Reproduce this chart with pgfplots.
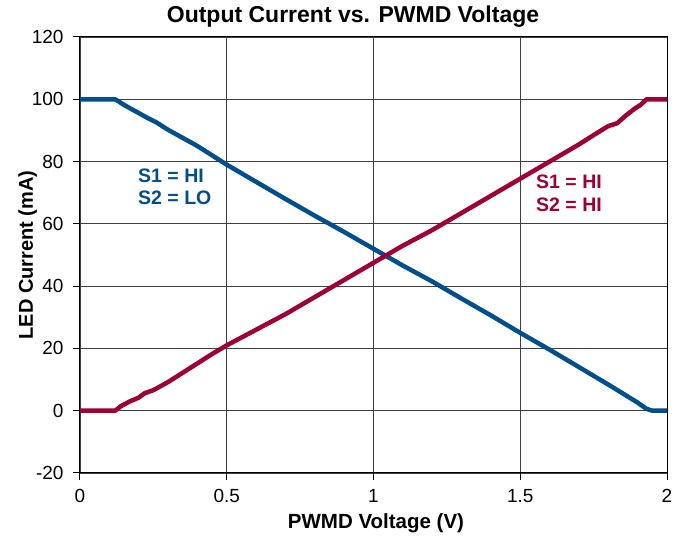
\documentclass[border=0pt]{standalone}
\usepackage{fontspec}
\setmainfont{Liberation Sans}
\usepackage{pgfplots}
\pgfplotsset{compat=1.18}
\definecolor{sblue}{RGB}{0,78,140}
\definecolor{sred}{RGB}{158,0,52}
\begin{document}
\begin{tikzpicture}[x=1pt,y=1pt]
\useasboundingbox (-80,-68) rectangle (595,473);
\begin{axis}[
  at={(0,0)}, anchor=south west,
  scale only axis, width=587pt, height=436pt,
  xmin=0, xmax=2, ymin=-20, ymax=120,
  xtick={0,0.5,1,1.5,2}, ytick={-20,0,20,40,60,80,100,120},
  xticklabels={0,0.5,1,1.5,2},
  yticklabels={-20,0,20,40,60,80,100,120},
  grid=major,
  major grid style={black!75, line width=0.8pt},
  axis line style={black, line width=1pt},
  tick align=outside, xtick pos=bottom, ytick pos=left,
  major tick length=7pt,
  tick style={black, line width=1pt},
  tick label style={font=\fontsize{19}{20}\selectfont},
  xticklabel style={yshift=-6pt},
  yticklabel style={xshift=-6pt},
  clip=false,
]
\addplot[sblue, line width=4.5pt, line join=round] coordinates {
(0,100)(0.12,100)(0.15,98.2)(0.18,96.6)(0.2,95.6)(0.23,94)(0.26,92.6)(0.3,90.2)
(0.35,87.6)(0.4,85)(0.45,82)(0.5,79)(0.6,73.5)(0.7,68)(0.8,62.6)(0.9,57.4)
(1.0,52)(1.1,46.6)(1.2,41.5)(1.3,36)(1.4,30.6)(1.5,25)(1.6,19.6)(1.7,14)
(1.8,8.4)(1.85,5.5)(1.9,2.6)(1.93,0.6)(1.95,0)(2,0)};
\addplot[sred, line width=4.5pt, line join=round] coordinates {
(0,0)(0.12,0)(0.14,1.5)(0.17,3)(0.2,4.2)(0.22,5.6)(0.25,6.6)(0.3,9.2)
(0.35,12.2)(0.4,15.2)(0.45,18.2)(0.5,21)(0.6,26)(0.7,31)(0.8,36.5)(0.9,42)
(1.0,47.5)(1.1,53)(1.2,58)(1.3,63.5)(1.4,69)(1.5,74.5)(1.6,80)(1.7,85.5)
(1.75,88.5)(1.8,91.4)(1.83,92.3)(1.86,94.8)(1.89,97)(1.91,98.2)(1.93,100)(2,100)};
\end{axis}
\node[anchor=base, inner sep=0pt, font=\fontsize{23}{26}\selectfont\bfseries] at (273,450) {Output Current vs. PWMD Voltage};
\node[anchor=base, inner sep=0pt, font=\fontsize{20.5}{22}\selectfont\bfseries] at (296,-56) {PWMD Voltage (V)};
\node[anchor=base, inner sep=0pt, rotate=90, font=\fontsize{20}{22}\selectfont\bfseries] at (-47,218) {LED Current (mA)};
\node[anchor=base west, inner sep=0pt, sblue, font=\fontsize{19.5}{22}\selectfont\bfseries] at (58,290) {S1 = HI};
\node[anchor=base west, inner sep=0pt, sblue, font=\fontsize{19.5}{22}\selectfont\bfseries] at (58,268) {S2 = LO};
\node[anchor=base west, inner sep=0pt, sred, font=\fontsize{19.5}{22}\selectfont\bfseries] at (456,284) {S1 = HI};
\node[anchor=base west, inner sep=0pt, sred, font=\fontsize{19.5}{22}\selectfont\bfseries] at (456,261) {S2 = HI};
\end{tikzpicture}
\end{document}
